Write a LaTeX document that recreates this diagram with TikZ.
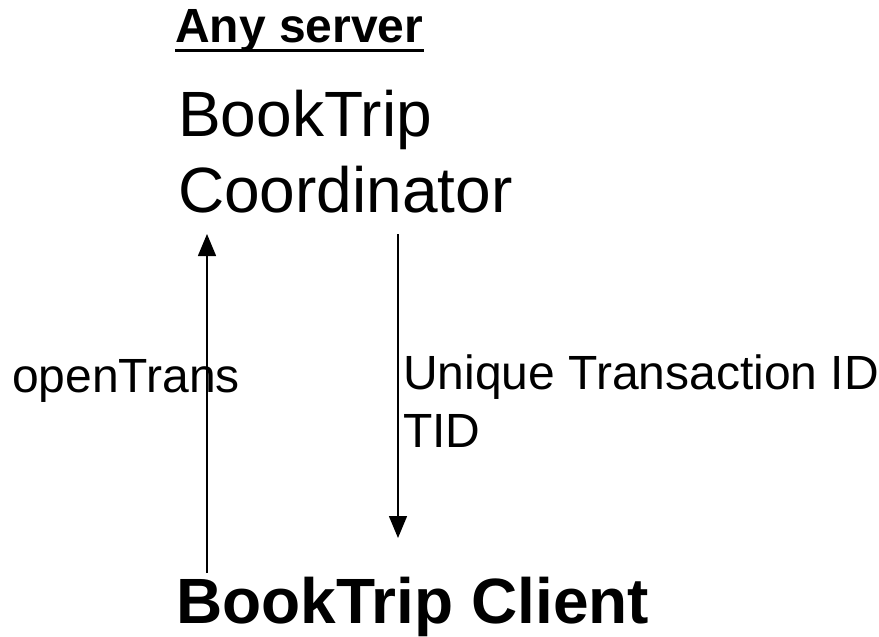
\documentclass[tikz,border=0pt]{standalone}
\usepackage{fontspec}
\setmainfont{Liberation Sans}
\usetikzlibrary{arrows.meta}
\def\fbig{\fontsize{64}{76}\selectfont}
\def\fmid{\fontsize{48}{58}\selectfont}

\begin{document}
\begin{tikzpicture}[x=1pt,y=-1pt,inner sep=0pt,lbl/.style={anchor=base west},
  msg/.style={line width=1.5pt,-{Triangle[length=22pt,width=18pt]}}]
\useasboundingbox (0,0) rectangle (879,637);

\node[lbl] (srv) at (175,42) {\fmid\bfseries Any server};
\draw[line width=3pt] (srv.base west) ++(0,8) coordinate (ulA) -- (ulA -| srv.east);
\node[lbl] (trip) at (178,136) {\fbig BookTrip};
\node[lbl] (coord) at (178,212) {\fbig Coordinator};
\node[lbl] (client) at (176,623) {\fbig\bfseries BookTrip Client};

\coordinate (A) at (207,573);
\coordinate (B) at (207,234);
\coordinate (C) at (398,234);
\coordinate (D) at (398,538);

\draw[msg] (A) -- (B);
\draw[msg] (C) -- (D);

\node[lbl] (open) at (12,392) {\fmid openTrans};
\node[lbl] (uniq) at (403,389) {\fmid Unique Transaction ID};
\node[lbl] (tid) at (403,447) {\fmid TID};
\end{tikzpicture}
\end{document}
